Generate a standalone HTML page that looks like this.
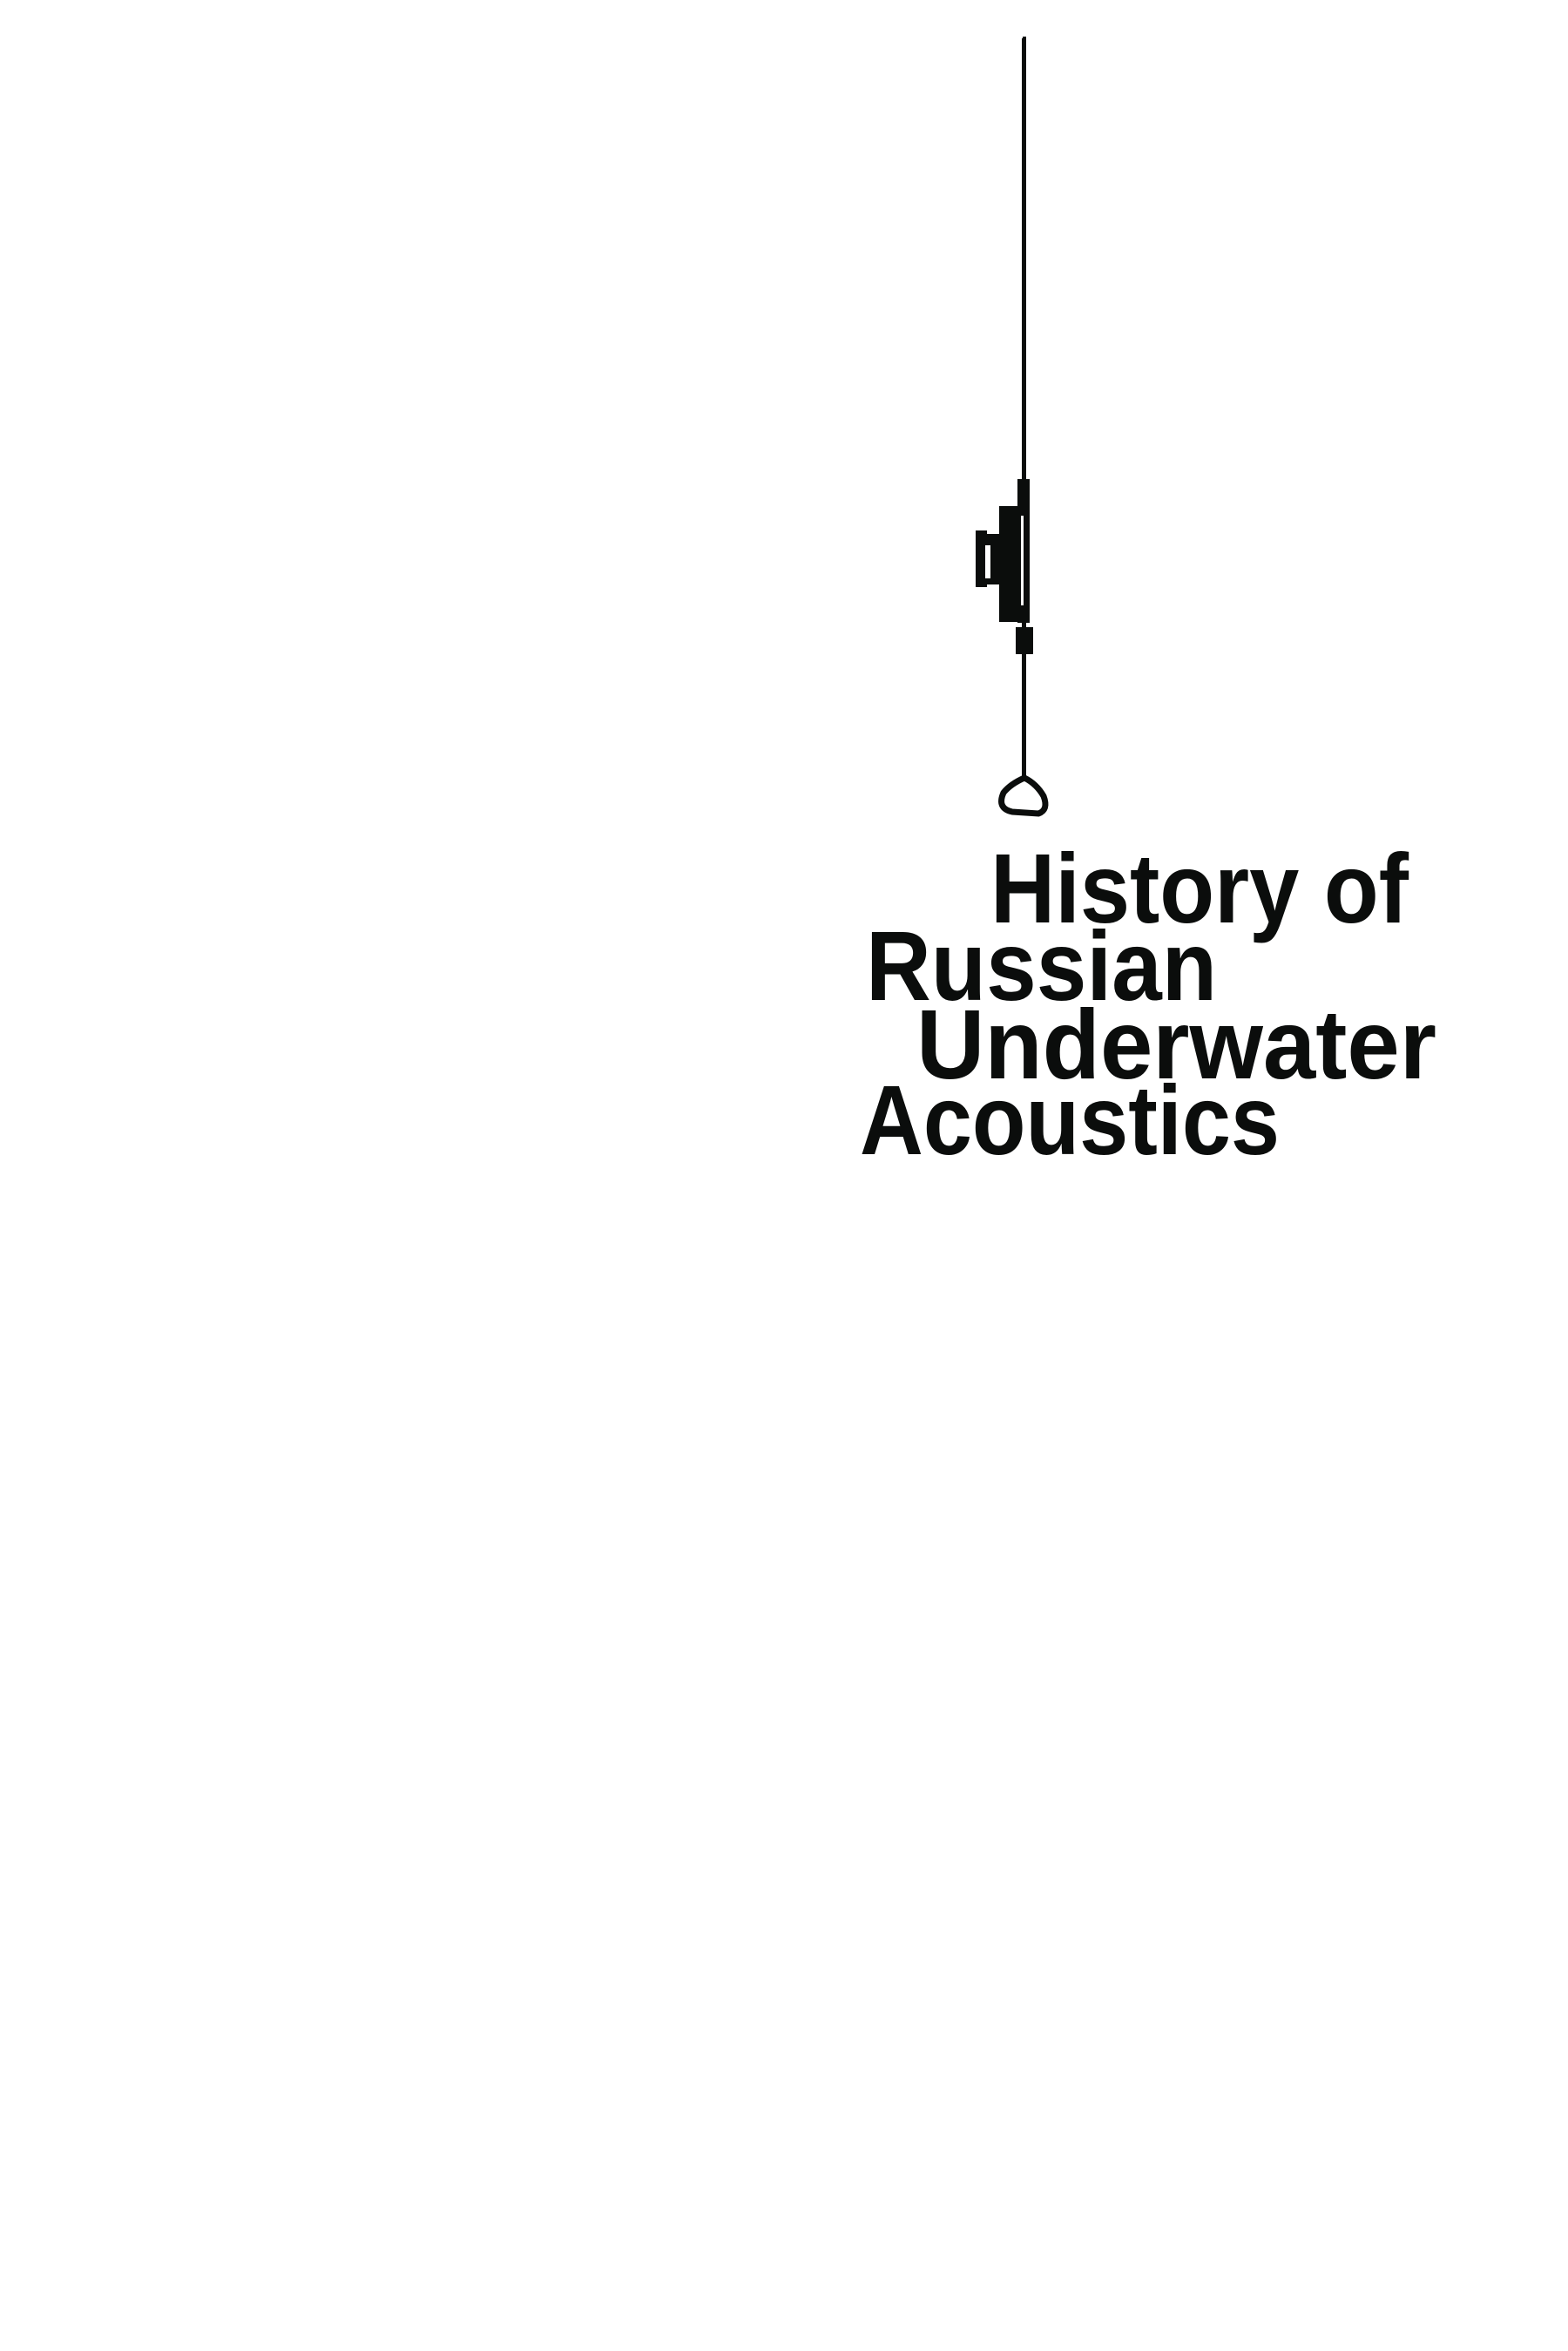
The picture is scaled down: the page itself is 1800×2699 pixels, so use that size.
<!DOCTYPE html>
<html><head><style>html,body{margin:0;padding:0;background:#fff;}svg{display:block}</style></head>
<body>
<svg width="1800" height="2699" viewBox="0 0 1800 2699" xmlns="http://www.w3.org/2000/svg">
<g fill="#0b0d0c" stroke="none">
<rect x="1173" y="44" width="5" height="848"/>
<rect x="1174" y="42" width="4" height="6"/>
<rect x="1168" y="550" width="14" height="165"/>
<rect x="1147" y="581" width="27" height="133"/>
<rect x="1131" y="613" width="18" height="58"/>
<rect x="1120" y="609" width="13" height="65"/>
<rect x="1166" y="720" width="20" height="31"/>
</g>
<rect x="1131" y="626" width="6" height="38" fill="#fff"/>
<rect x="1172" y="592" width="3" height="103" fill="#fff"/>
<path d="M1176 893 Q1160 900 1152 910 Q1144 928 1162 932 L1192 934 Q1204 930 1198 914 Q1190 900 1176 893 Z" fill="none" stroke="#0b0d0c" stroke-width="7"/>
<g font-family="'Liberation Sans', sans-serif" font-weight="bold" font-size="113" fill="#0b0d0c">
<text x="1137" y="1059" textLength="480" lengthAdjust="spacingAndGlyphs">History of</text>
<text x="994" y="1148" textLength="403" lengthAdjust="spacingAndGlyphs">Russian</text>
<text x="1052" y="1238" textLength="597" lengthAdjust="spacingAndGlyphs">Underwater</text>
<text x="987" y="1325" textLength="482" lengthAdjust="spacingAndGlyphs">Acoustics</text>
</g>
</svg>
</body></html>
